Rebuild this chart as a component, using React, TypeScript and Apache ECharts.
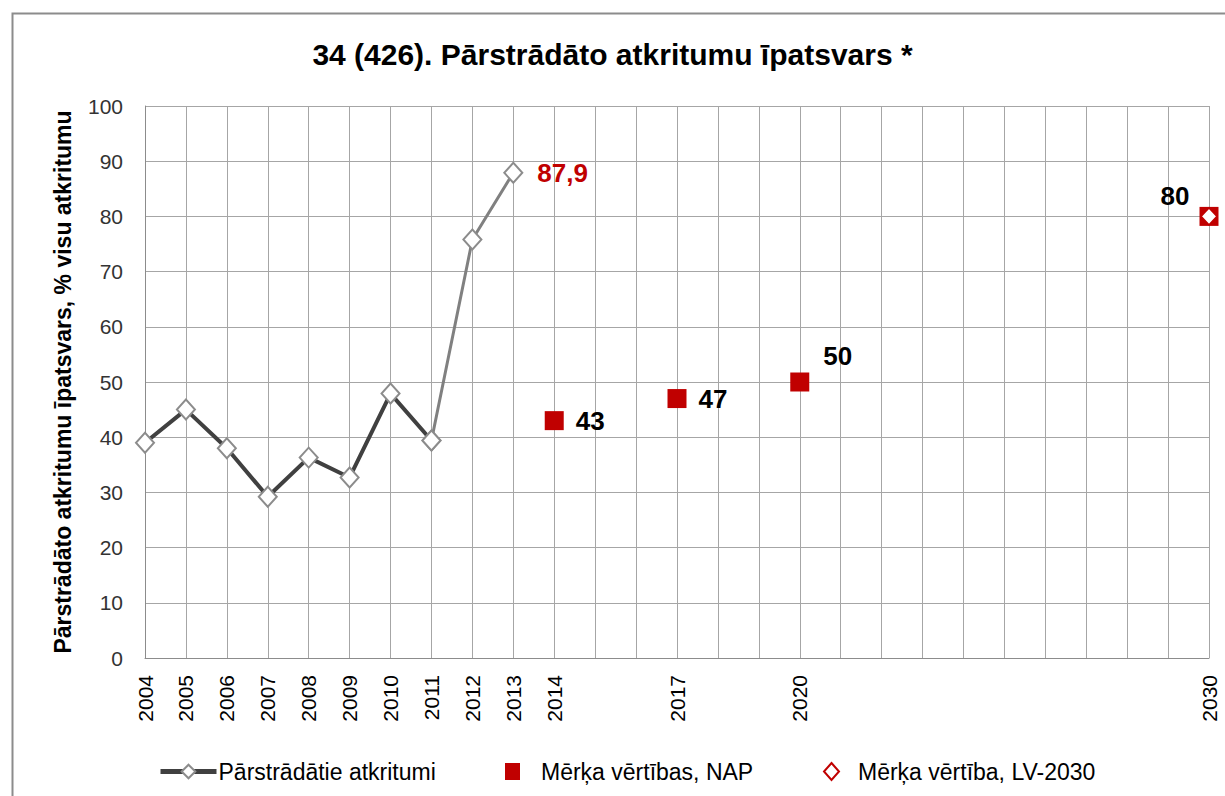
import React, { useEffect, useRef } from "react";
import * as echarts from "echarts";

const years = Array.from({ length: 27 }, (_, i) => String(2004 + i));
const shownYears = ["2004","2005","2006","2007","2008","2009","2010","2011","2012","2013","2014","2017","2020","2030"];
const recycledYears = ["2004","2005","2006","2007","2008","2009","2010","2011","2012","2013"];
const recycledValues = [39, 45, 38, 29.2, 36.3, 32.7, 47.9, 39.4, 75.8, 87.9];
const napYears = ["2014", "2017", "2020", "2030"];
const napValues = [43, 47, 50, 80];
const lvYears = ["2030"];
const lvValues = [80];

const FONT = "'Liberation Sans', Arial, sans-serif";

export default function App() {
  const ref = useRef<HTMLDivElement>(null);
  useEffect(() => {
    if (!ref.current) return;
    const chart = echarts.init(ref.current, null, { renderer: "svg" });
    const darkData = years.map((y) => {
      const i = recycledYears.indexOf(y);
      return i >= 0 && i <= 7 ? recycledValues[i] : null;
    });
    const lightData = years.map((y) => {
      const i = recycledYears.indexOf(y);
      return i >= 7 ? recycledValues[i] : null;
    });
    const diamondStyle = { color: "#ffffff", borderColor: "#8c8c8c", borderWidth: 2 };
    const napLabels: any[] = [
      { position: "right", distance: 12 },
      { position: "right", distance: 12 },
      { position: "right", offset: [14, -26], distance: 0 },
      { position: "left", offset: [-2, -20], distance: 8 },
    ];
    chart.setOption({
      animation: false,
      backgroundColor: "#ffffff",
      textStyle: { fontFamily: FONT },
      title: {
        text: "34 (426). Pārstrādāto atkritumu īpatsvars *",
        left: "center",
        top: 34,
        textStyle: { fontFamily: FONT, fontSize: 30, fontWeight: "bold", color: "#000" },
      },
      graphic: [
        {
          type: "rect",
          left: 10,
          top: 11,
          shape: { width: 1240, height: 820 },
          style: { fill: "none", stroke: "#8c8c8c", lineWidth: 2 },
          silent: true,
        },
      ],
      grid: { left: 145, right: 16, top: 106, bottom: 138 },
      xAxis: {
        type: "category",
        data: years,
        boundaryGap: false,
        axisLine: { lineStyle: { color: "#8c8c8c", width: 1 } },
        axisTick: { show: false },
        splitLine: { show: true, interval: 0, lineStyle: { color: "#a6a6a6", width: 1 } },
        axisLabel: {
          interval: 0,
          rotate: 90,
          margin: 17,
          fontSize: 21,
          color: "#000",
          fontFamily: FONT,
          formatter: (v: string) => (shownYears.includes(v) ? v : ""),
        },
      },
      yAxis: {
        type: "value",
        min: 0,
        max: 100,
        interval: 10,
        name: "Pārstrādāto atkritumu īpatsvars, % visu atkritumu",
        nameLocation: "middle",
        nameGap: 71,
        nameTextStyle: { fontFamily: FONT, fontSize: 23, fontWeight: "bold", color: "#000" },
        axisLine: { show: true, lineStyle: { color: "#8c8c8c", width: 1 } },
        axisTick: { show: false },
        splitLine: { show: true, lineStyle: { color: "#a6a6a6", width: 1 } },
        axisLabel: { fontSize: 21, color: "#333", margin: 22, fontFamily: FONT },
      },
      legend: [
        {
          data: ["Pārstrādātie atkritumi"],
          left: 153,
          top: 755,
          itemWidth: 56,
          itemHeight: 17,
          lineStyle: { width: 5, color: "#404040" },
          textStyle: { fontFamily: FONT, fontSize: 23, color: "#000", padding: [0, 0, 0, -3] },
        },
        {
          data: [{ name: "Mērķa vērtības, NAP", icon: "rect" }],
          left: 500,
          top: 755,
          itemWidth: 15,
          itemHeight: 17,
          textStyle: { fontFamily: FONT, fontSize: 23, color: "#000", padding: [0, 0, 0, 16] },
        },
        {
          data: [{ name: "Mērķa vērtība, LV-2030", icon: "diamond" }],
          left: 818,
          top: 755,
          itemWidth: 15,
          itemHeight: 17,
          textStyle: { fontFamily: FONT, fontSize: 23, color: "#000", padding: [0, 0, 0, 14] },
        },
      ],
      series: [
        {
          name: "Pārstrādātie atkritumi",
          type: "line",
          data: darkData,
          symbol: "diamond",
          symbolSize: [18, 20],
          showAllSymbol: true,
          lineStyle: { color: "#404040", width: 4 },
          itemStyle: diamondStyle,
          z: 3,
        },
        {
          name: "recycled-light",
          type: "line",
          data: lightData,
          symbol: "diamond",
          symbolSize: [18, 20],
          lineStyle: { color: "#808080", width: 3 },
          itemStyle: diamondStyle,
          z: 4,
          label: {
            show: true,
            position: "right",
            distance: 14,
            fontFamily: FONT,
            fontSize: 26,
            fontWeight: "bold",
            color: "#c00000",
            formatter: (p: any) => (p.dataIndex === recycledYears.length - 1 ? String(p.value).replace(".", ",") : ""),
          },
        },
        {
          name: "Mērķa vērtības, NAP",
          type: "scatter",
          symbol: "rect",
          symbolSize: 19,
          clip: false,
          itemStyle: { color: "#c00000", opacity: 1 },
          z: 5,
          data: napYears.map((y, i) => ({
            value: [y, napValues[i]],
            label: {
              show: true,
              fontFamily: FONT,
              fontSize: 26,
              fontWeight: "bold",
              color: "#000",
              ...napLabels[i],
            },
          })),
        },
        {
          name: "Mērķa vērtība, LV-2030",
          type: "scatter",
          symbol: "diamond",
          symbolSize: [16, 17],
          clip: false,
          itemStyle: { color: "#ffffff", borderColor: "#c00000", borderWidth: 1.5, opacity: 1 },
          z: 6,
          data: lvYears.map((y, i) => [y, lvValues[i]]),
        },
      ],
    });
    return () => chart.dispose();
  }, []);
  return (
    <div
      ref={ref}
      style={{ position: "absolute", left: 0, top: 0, width: 1225, height: 796 }}
    />
  );
}
